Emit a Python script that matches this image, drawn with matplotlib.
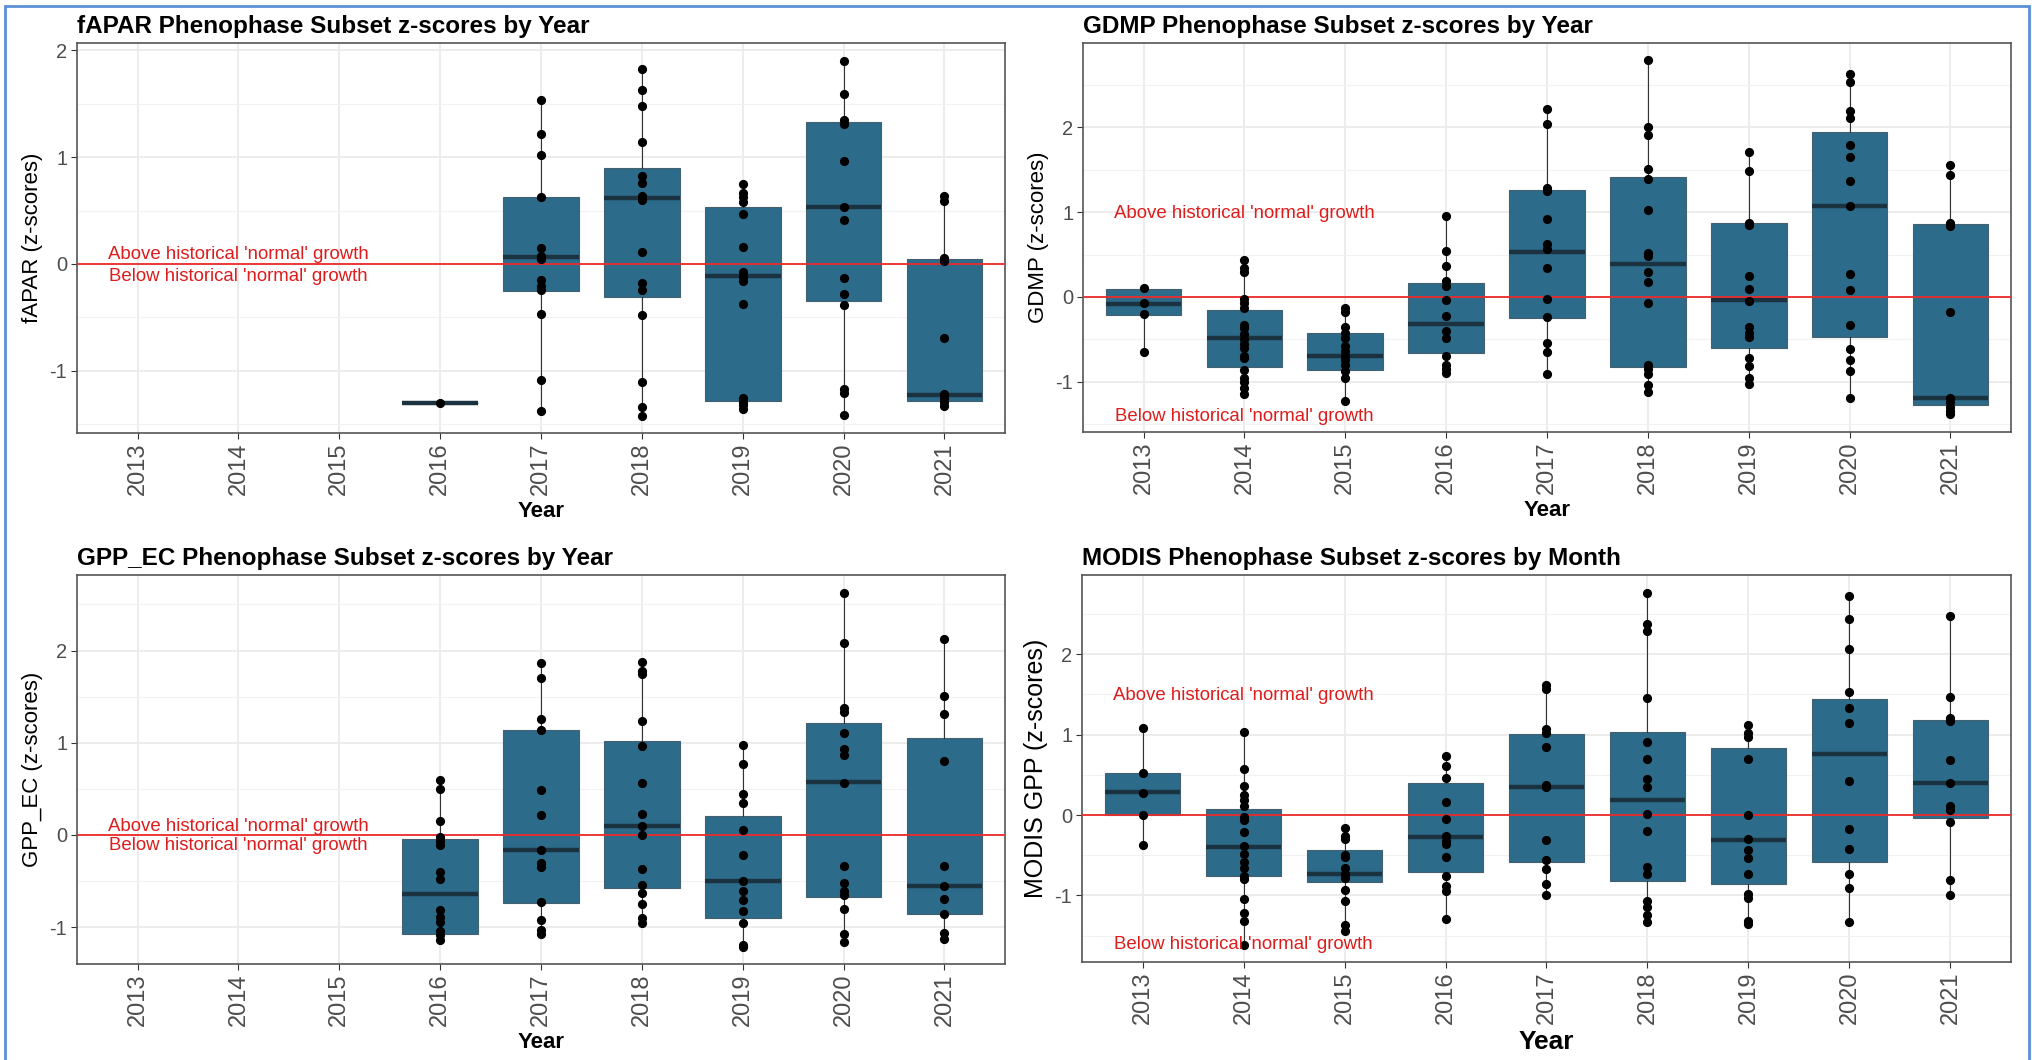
"""
Phenophase subset z-scores by year, four panels (boxplot + points)
"""
import matplotlib
matplotlib.use("Agg")
import matplotlib.pyplot as plt
import numpy as np

plt.rcParams['font.family'] = ['Liberation Sans', 'DejaVu Sans']

years = ["2013", "2014", "2015", "2016", "2017", "2018", "2019", "2020", "2021"]

# ---- fAPAR ----
fapar_years = ["2016", "2017", "2018", "2019", "2020", "2021"]
fapar_q1 = [-1.30, -0.256, -0.307, -1.28, -0.345, -1.28]
fapar_med = [-1.30, 0.066, 0.62, -0.11, 0.53, -1.225]
fapar_q3 = [-1.30, 0.63, 0.90, 0.535, 1.33, 0.047]
fapar_points = [
    [-1.30],
    [1.53, 1.215, 1.02, 0.63, 0.15, 0.076, 0.05, -0.15, -0.21, -0.245, -0.47, -1.085, -1.37],
    [1.82, 1.63, 1.48, 1.14, 0.82, 0.76, 0.64, 0.60, 0.11, -0.18, -0.245, -0.48, -1.10, -1.34, -1.42],
    [0.75, 0.66, 0.63, 0.58, 0.47, 0.16, -0.076, -0.117, -0.155, -0.37, -1.256, -1.29, -1.32, -1.36],
    [1.90, 1.59, 1.345, 1.31, 0.96, 0.53, 0.41, -0.133, -0.285, -0.386, -1.17, -1.21, -1.41],
    [0.64, 0.59, 0.06, 0.03, -0.69, -1.215, -1.256, -1.29, -1.33],
]

# ---- GDMP ----
gdmp_years = years
gdmp_q1 = [-0.21, -0.825, -0.865, -0.665, -0.247, -0.825, -0.60, -0.47, -1.275]
gdmp_med = [-0.08, -0.486, -0.70, -0.32, 0.526, 0.39, -0.04, 1.076, -1.195]
gdmp_q3 = [0.092, -0.15, -0.42, 0.167, 1.263, 1.42, 0.87, 1.95, 0.857]
gdmp_points = [
    [0.10, -0.07, -0.207, -0.65],
    [0.44, 0.34, 0.29, -0.03, -0.07, -0.13, -0.33, -0.37, -0.44, -0.50, -0.55, -0.60, -0.70,
     -0.725, -0.857, -0.96, -1.00, -1.076, -1.15],
    [-0.13, -0.18, -0.36, -0.42, -0.48, -0.58, -0.64, -0.70, -0.75, -0.80, -0.88, -0.96, -1.23],
    [0.956, 0.546, 0.36, 0.19, 0.13, -0.04, -0.22, -0.40, -0.49, -0.70, -0.80, -0.845, -0.90],
    [2.22, 2.04, 1.28, 1.255, 0.916, 0.63, 0.56, 0.34, -0.03, -0.24, -0.54, -0.645, -0.91],
    [2.79, 2.01, 1.91, 1.51, 1.39, 1.03, 0.52, 0.48, 0.29, 0.18, -0.07, -0.80, -0.845, -0.91,
     -1.04, -1.12],
    [1.705, 1.48, 0.876, 0.845, 0.247, 0.088, -0.048, -0.35, -0.43, -0.47, -0.72, -0.82, -0.96, -1.03],
    [2.63, 2.53, 2.19, 2.11, 1.79, 1.65, 1.37, 1.076, 0.27, 0.08, -0.33, -0.62, -0.75, -0.87, -1.195],
    [1.554, 1.434, 0.87, 0.837, -0.18, -1.187, -1.243, -1.295, -1.347, -1.386],
]

# ---- GPP_EC ----
gpp_years = ["2016", "2017", "2018", "2019", "2020", "2021"]
gpp_q1 = [-1.072, -0.733, -0.572, -0.897, -0.67, -0.853]
gpp_med = [-0.645, -0.168, 0.095, -0.496, 0.569, -0.55]
gpp_q3 = [-0.044, 1.134, 1.024, 0.204, 1.218, 1.05]
gpp_points = [
    [0.594, 0.496, 0.146, -0.022, -0.07, -0.113, -0.40, -0.48, -0.81, -0.89, -0.94, -1.04, -1.09, -1.145],
    [1.863, 1.70, 1.254, 1.134, 0.485, 0.211, -0.168, -0.30, -0.343, -0.725, -0.926, -1.03, -1.07],
    [1.874, 1.78, 1.743, 1.236, 0.96, 0.56, 0.23, 0.095, -0.004, -0.37, -0.543, -0.627, -0.744,
     -0.897, -0.955],
    [0.98, 0.765, 0.44, 0.35, 0.058, -0.215, -0.496, -0.605, -0.707, -0.83, -0.955, -1.19, -1.218],
    [2.63, 2.08, 1.38, 1.33, 1.105, 0.933, 0.87, 0.56, -0.335, -0.525, -0.605, -0.65, -0.80, -1.07, -1.16],
    [2.125, 1.506, 1.31, 0.807, -0.335, -0.55, -0.69, -0.853, -1.065, -1.127],
]

# ---- MODIS GPP ----
modis_years = years
modis_q1 = [0.0, -0.758, -0.834, -0.704, -0.59, -0.82, -0.863, -0.59, -0.034]
modis_med = [0.289, -0.40, -0.737, -0.268, 0.352, 0.184, -0.306, 0.762, 0.402]
modis_q3 = [0.52, 0.08, -0.436, 0.394, 1.01, 1.035, 0.834, 1.441, 1.177]
modis_points = [
    [1.085, 0.528, 0.276, -0.004, -0.369],
    [1.035, 0.57, 0.364, 0.247, 0.184, 0.109, -0.025, -0.067, -0.214, -0.38, -0.486, -0.59, -0.654,
     -0.758, -0.80, -1.05, -1.22, -1.32, -1.61],
    [-0.16, -0.256, -0.297, -0.494, -0.528, -0.654, -0.729, -0.78, -0.926, -1.072, -1.366, -1.44],
    [0.737, 0.603, 0.465, 0.163, -0.054, -0.256, -0.318, -0.36, -0.528, -0.758, -0.884, -0.947, -1.295],
    [1.617, 1.567, 1.064, 1.014, 0.845, 0.373, 0.343, -0.31, -0.561, -0.674, -0.863, -0.997],
    [2.76, 2.38, 2.29, 1.454, 0.91, 0.695, 0.444, 0.352, 0.008, -0.205, -0.645, -0.737, -1.072,
     -1.148, -1.24, -1.332],
    [1.114, 1.022, 0.97, 0.70, -0.004, -0.30, -0.436, -0.536, -0.737, -0.98, -1.03, -1.315, -1.357],
    [2.727, 2.438, 2.06, 1.533, 1.336, 1.14, 0.427, -0.172, -0.423, -0.737, -0.905, -1.324],
    [2.468, 1.47, 1.21, 1.169, 0.687, 0.402, 0.109, 0.059, -0.088, -0.809, -0.989],
]

W, H = 2033, 1060
BOX_COL = "#2d6b8a"


def rect(l, t, r, b):
    return [l / W, 1 - b / H, (r - l) / W, (b - t) / H]


def panel(ax, title, ylabel, yrs, q1, med, q3, pts, ylim, txt_y, lab_size=16, year_size=16):
    pos = [years.index(y) for y in yrs]
    stats = []
    for i in range(len(yrs)):
        stats.append(dict(q1=q1[i], med=med[i], q3=q3[i],
                          whislo=min(pts[i]), whishi=max(pts[i]), fliers=[]))
    ax.bxp(stats, positions=pos, widths=0.75, patch_artist=True, showcaps=False,
           boxprops=dict(facecolor=BOX_COL, edgecolor="#45606e", linewidth=0.8),
           medianprops=dict(color="#1b3340", linewidth=3.2),
           whiskerprops=dict(color="#333333", linewidth=0.8), zorder=2)
    for p, v in zip(pos, pts):
        ax.plot([p] * len(v), v, "o", color="black", ms=5.6, zorder=4)
    ax.axhline(0, color="#ee2a2a", lw=1.3, zorder=3)
    ax.text(1, txt_y[0], "Above historical 'normal' growth", color="#dd1c1c",
            fontsize=13.4, ha="center", va="center", zorder=5)
    ax.text(1, txt_y[1], "Below historical 'normal' growth", color="#dd1c1c",
            fontsize=13.4, ha="center", va="center", zorder=5)

    ax.set_xticks(range(len(years)))
    ax.set_xticklabels(years, rotation=90, fontsize=17, color="#4d4d4d")
    ax.set_yticks([-1, 0, 1, 2])
    ax.set_yticklabels(["-1", "0", "1", "2"], fontsize=14.5, color="#4d4d4d")
    ax.set_yticks([-1.5, -0.5, 0.5, 1.5, 2.5], minor=True)
    ax.set_xlim(-0.6, 8.6)
    ax.set_ylim(*ylim)
    ax.tick_params(which="minor", length=0)
    ax.tick_params(which="major", length=4, color="#333333", pad=3)
    ax.grid(True, which="major", color="#ebebeb", lw=1.3, zorder=0)
    ax.grid(True, which="minor", axis="y", color="#f2f2f2", lw=0.8, zorder=0)
    ax.set_axisbelow(True)
    for s in ax.spines.values():
        s.set_color("#555555")
        s.set_linewidth(1.2)
    ax.set_title(title, loc="left", fontsize=17.5, fontweight="bold", pad=7)
    ax.set_ylabel(ylabel, fontsize=lab_size, labelpad=5)
    ax.set_xlabel("Year", fontsize=year_size, fontweight="bold", labelpad=4)


fig = plt.figure(figsize=(W / 100, H / 100), dpi=100)

ax1 = fig.add_axes(rect(77, 43, 1005, 433))
panel(ax1, "fAPAR Phenophase Subset z-scores by Year", "fAPAR (z-scores)",
      fapar_years, fapar_q1, fapar_med, fapar_q3, fapar_points, (-1.58, 2.066), (0.09, -0.115))

ax2 = fig.add_axes(rect(1083, 43, 2011, 432))
panel(ax2, "GDMP Phenophase Subset z-scores by Year", "GDMP (z-scores)",
      gdmp_years, gdmp_q1, gdmp_med, gdmp_q3, gdmp_points, (-1.594, 2.996), (0.98, -1.41))

ax3 = fig.add_axes(rect(77, 575, 1005, 964))
panel(ax3, "GPP_EC Phenophase Subset z-scores by Year", "GPP_EC (z-scores)",
      gpp_years, gpp_q1, gpp_med, gpp_q3, gpp_points, (-1.40, 2.82), (0.09, -0.115))

ax4 = fig.add_axes(rect(1082, 575, 2011, 962))
panel(ax4, "MODIS Phenophase Subset z-scores by Month", "MODIS GPP (z-scores)",
      modis_years, modis_q1, modis_med, modis_q3, modis_points, (-1.827, 2.983), (1.49, -1.61),
      lab_size=18, year_size=19)

# blue screenshot frame
frame = plt.Rectangle((5 / W, -0.05), (2029 - 5) / W, 1.05 - 6 / H, transform=fig.transFigure,
                      fill=False, edgecolor="#5b8fd6", lw=2)
fig.patches.append(frame)

fig.savefig("out.png", dpi=100)
